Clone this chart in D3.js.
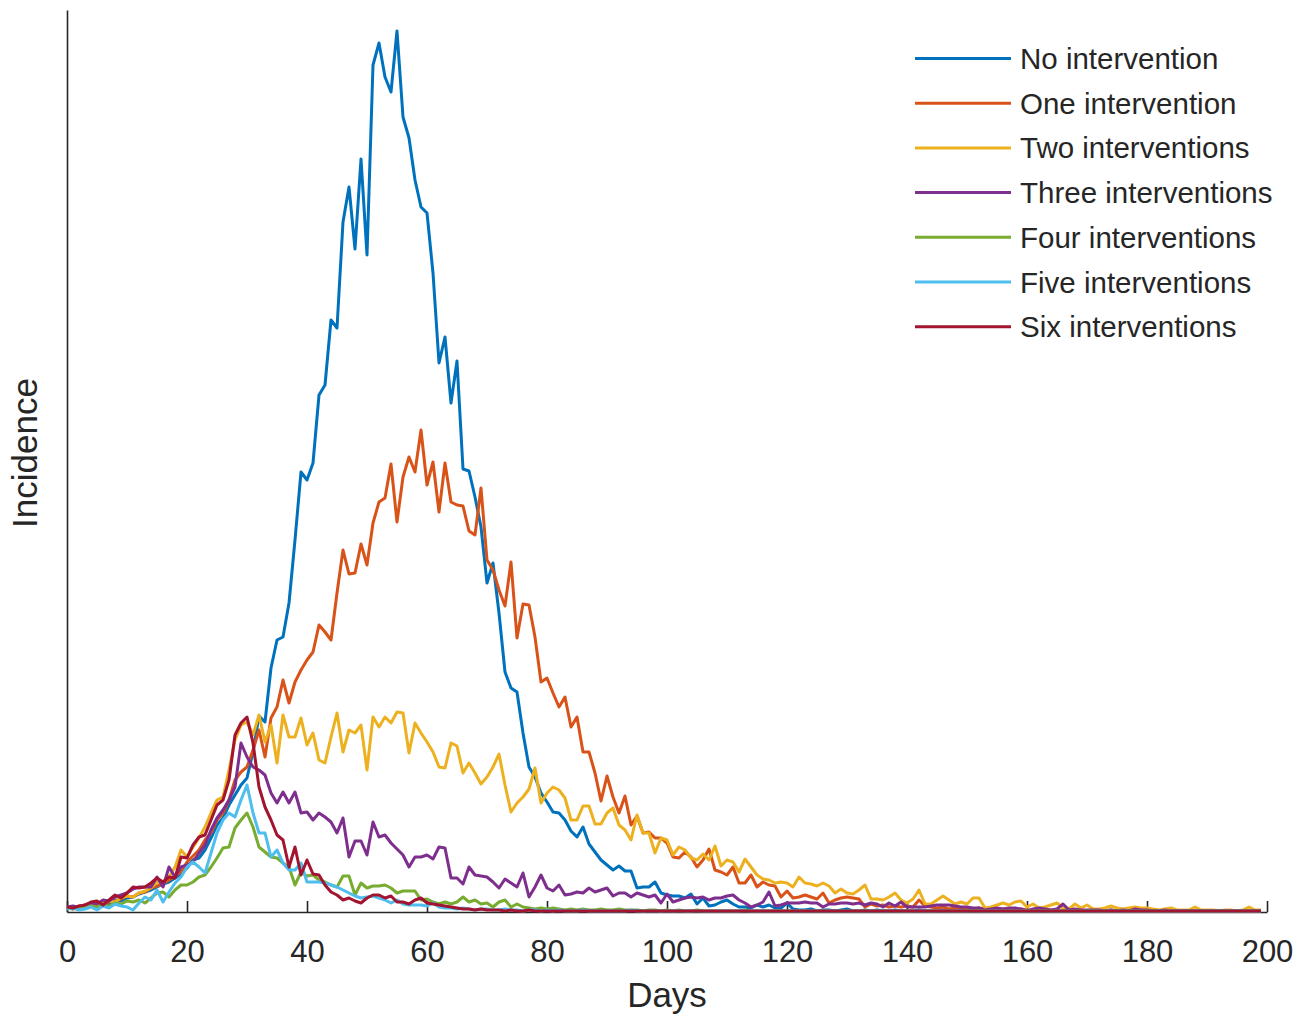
<!DOCTYPE html>
<html>
<head>
<meta charset="utf-8">
<script src="https://cdn.jsdelivr.net/npm/d3@7"></script>
<style>
  body { margin: 0; background: #fff; }
  svg text { font-family: "Liberation Sans", Arial, sans-serif; fill: #262626; }
</style>
</head>
<body>
<div id="chart"></div>
<script>
// incidence per day (day 0..199)
const noIntervention = [
  4,4,3,6,7,6,9,8,12,11,
  14,15,18,20,22,25,28,30,34,38,
  44,52,54,62,74,87,94,107,117,127,
  134,160,196,190,244,272,275,309,372,440,
  432,449,517,527,592,584,690,725,663,753,
  657,847,869,835,820,881,795,774,732,705,
  699,639,549,575,509,551,443,441,415,385,
  329,349,299,240,224,220,179,145,135,119,
  110,100,99,92,81,75,85,68,60,52,
  47,42,46,41,41,24,25,25,30,19,
  17,16,16,14,18,8,14,6,7,10,
  12,8,5,5,4,7,5,7,4,4,
  9,3,2,2,3,1,2,2,1,2,
  3,1,1,2,1,2,1,1,2,1,
  1,1,2,1,1,1,2,1,1,1,
  1,2,1,1,1,1,1,2,1,1,
  1,1,1,2,1,1,1,1,1,1,
  1,1,1,1,1,2,1,1,1,1,
  1,1,1,1,1,1,1,1,1,1,
  1,1,1,1,1,1,1,1,1,1
];
const oneIntervention = [
  5,3,6,6,8,7,9,10,11,13,
  16,15,19,20,24,26,28,32,36,40,
  50,56,62,72,79,92,99,112,132,140,
  145,162,182,155,194,205,232,209,230,242,
  252,260,287,280,272,319,362,338,339,368,
  347,389,410,414,448,390,435,455,440,482,
  427,450,400,449,410,407,406,381,377,424,
  352,342,322,306,350,274,308,307,275,230,
  234,219,205,215,185,195,160,160,139,111,
  136,115,99,116,87,96,79,80,74,74,
  69,55,54,60,55,45,52,63,42,40,
  37,45,29,29,37,25,30,27,26,15,
  21,14,15,17,15,13,19,9,12,14,
  15,14,13,5,8,6,7,5,6,5,
  6,5,12,6,5,4,5,3,4,3,
  4,3,4,3,3,2,3,2,2,3,
  2,2,3,2,2,1,2,2,1,2,
  1,2,1,1,2,1,1,1,1,1,
  1,1,1,1,1,1,1,1,1,1,
  1,1,1,1,1,1,1,1,1,1
];
const twoInterventions = [
  4,5,3,7,6,9,8,11,10,14,
  16,15,19,21,24,30,29,35,45,62,
  55,65,74,85,99,112,115,142,172,187,
  190,177,197,170,187,149,197,175,175,194,
  167,179,152,149,175,199,160,182,179,187,
  142,195,185,195,189,200,199,159,189,179,
  170,160,145,144,169,166,139,149,139,128,
  135,145,158,127,100,109,115,123,144,109,
  119,125,122,114,92,92,106,106,88,88,
  99,104,87,82,72,97,79,79,59,74,
  72,57,65,62,54,52,58,52,66,46,
  52,50,40,53,45,37,33,32,29,30,
  29,25,35,29,28,26,29,26,19,23,
  19,18,22,27,13,13,12,15,19,12,
  9,13,22,8,8,12,16,12,8,10,
  8,14,14,4,5,7,9,7,10,11,
  5,8,4,5,7,9,4,3,8,4,
  7,3,3,4,6,4,3,4,5,4,
  4,3,2,3,4,2,2,2,5,2,
  2,2,1,2,2,1,2,5,2,2
];
const threeInterventions = [
  5,6,4,7,9,8,12,11,15,17,
  19,23,25,25,25,35,25,45,35,45,
  47,50,59,67,82,94,102,112,125,169,
  155,145,142,137,119,109,120,109,120,99,
  100,92,99,95,90,79,94,55,71,71,
  57,90,75,77,69,63,57,45,55,55,
  57,53,65,64,34,34,28,45,37,36,
  35,30,24,33,29,25,39,15,25,37,
  24,21,27,17,18,20,19,24,20,22,
  24,16,19,19,15,19,17,15,17,9,
  18,10,12,14,15,14,15,12,14,14,
  16,17,12,9,5,7,10,20,6,7,
  9,9,9,10,9,9,5,8,8,9,
  9,8,9,7,9,8,5,9,6,10,
  5,5,5,5,6,7,7,7,6,5,
  5,4,4,2,3,4,3,4,4,3,
  1,3,4,3,2,3,8,2,3,2,
  2,2,2,1,2,1,2,1,3,2,
  2,1,1,2,1,1,1,1,1,1,
  1,1,1,1,1,1,1,1,1,1
];
const fourInterventions = [
  4,3,5,4,6,5,7,6,9,8,
  11,10,12,9,14,19,20,15,22,27,
  27,30,35,37,45,54,64,65,84,92,
  99,85,65,60,55,54,49,45,27,40,
  36,37,32,30,27,25,36,36,17,29,
  24,26,26,27,24,19,21,21,21,12,
  13,10,8,10,8,10,15,10,12,8,
  9,5,10,12,5,8,5,4,3,4,
  3,4,3,2,3,2,3,2,2,3,
  2,2,3,2,2,2,1,2,2,1,
  2,1,2,1,1,2,1,1,1,1,
  1,1,1,2,1,1,1,1,1,1,
  1,1,1,1,1,1,1,1,1,1,
  1,1,1,1,1,1,1,1,1,1,
  1,1,1,1,1,1,1,1,1,1,
  1,1,1,1,1,1,1,1,1,1,
  1,1,1,1,1,1,1,1,1,1,
  1,1,1,1,1,1,1,1,1,1,
  1,1,1,1,1,1,1,1,1,1,
  1,1,1,1,1,1,1,1,1,1
];
const fiveInterventions = [
  3,4,2,3,5,2,6,4,8,6,
  5,2,9,15,12,22,10,20,29,35,
  45,50,45,39,59,79,92,99,95,112,
  127,99,79,79,55,62,49,42,42,49,
  30,30,30,29,27,25,22,19,16,14,
  15,16,14,12,9,12,8,7,7,7,
  6,9,5,4,4,3,4,3,2,3,
  3,2,2,3,2,2,1,2,2,1,
  2,1,2,1,1,1,2,1,1,1,
  1,1,1,1,2,1,1,1,1,1,
  1,1,1,1,1,1,1,1,1,1,
  1,1,1,1,1,1,1,1,1,1,
  1,1,1,1,1,1,1,1,1,1,
  1,1,1,1,1,1,1,1,1,1,
  1,1,1,1,1,1,1,1,1,1,
  1,1,1,1,1,1,1,1,1,1,
  1,1,1,1,1,1,1,1,1,1,
  1,1,1,1,1,1,1,1,1,1,
  1,1,1,1,1,1,1,1,1,1,
  1,1,1,1,1,1,1,1,1,1
];
const sixInterventions = [
  5,4,6,7,10,11,7,12,17,14,
  19,25,24,25,29,34,30,35,34,55,
  54,67,75,77,92,107,112,132,177,189,
  195,169,125,105,92,77,72,45,65,37,
  52,38,37,27,20,17,12,14,11,9,
  14,17,17,14,16,10,10,8,12,14,
  9,8,7,6,5,4,3,3,2,3,
  2,2,2,1,2,1,1,2,1,1,
  1,1,1,1,1,1,1,1,1,1,
  1,1,1,1,1,1,1,1,1,1,
  1,1,1,1,1,1,1,1,1,1,
  1,1,1,1,1,1,1,1,1,1,
  1,1,1,1,1,1,1,1,1,1,
  1,1,1,1,1,1,1,1,1,1,
  1,1,1,1,1,1,1,1,1,1,
  1,1,1,1,1,1,1,1,1,1,
  1,1,1,1,1,1,1,1,1,1,
  1,1,1,1,1,1,1,1,1,1,
  1,1,1,1,1,1,1,1,1,1,
  1,1,1,1,1,1,1,1,1,1
];

const seriesNames = [
  "No intervention", "One intervention", "Two interventions",
  "Three interventions", "Four interventions", "Five interventions",
  "Six interventions"
];
const seriesValues = [
  noIntervention, oneIntervention, twoInterventions, threeInterventions,
  fourInterventions, fiveInterventions, sixInterventions
];
const xTicks = [0, 20, 40, 60, 80, 100, 120, 140, 160, 180, 200];

// matlab default line colours
const colors = ["#0072BD", "#D95319", "#EDB120", "#7E2F8E", "#77AC30", "#4DBEEE", "#A2142F"];

const W = 1304, H = 1016;
const x0 = 67, x1 = 1267, yBase = 912, yTop = 10;

const svg = d3.select("#chart").append("svg")
  .attr("width", W)
  .attr("height", H);

const x = d3.scaleLinear().domain([0, 200]).range([x0, x1]);
const y = d3.scaleLinear().domain([0, yBase - yTop]).range([yBase, yTop]);

// axes
const xAxis = svg.append("g")
  .attr("transform", `translate(0,${yBase})`)
  .call(d3.axisBottom(x).tickValues(xTicks).tickSizeInner(-11).tickSizeOuter(0).tickPadding(28));
xAxis.select(".domain").attr("stroke", "#262626").attr("stroke-width", 1.6);
xAxis.selectAll(".tick line").attr("stroke", "#262626").attr("stroke-width", 1.6);
xAxis.selectAll(".tick text")
  .attr("font-size", "31px")
  .attr("font-family", "Liberation Sans, Arial, sans-serif")
  .attr("fill", "#262626");

const yAxis = svg.append("g")
  .attr("transform", `translate(${x0},0)`)
  .call(d3.axisLeft(y).tickValues([]).tickSizeOuter(0));
yAxis.select(".domain").attr("stroke", "#262626").attr("stroke-width", 1.6);

// axis labels
svg.append("text")
  .attr("x", (x0 + x1) / 2)
  .attr("y", 1007)
  .attr("text-anchor", "middle")
  .attr("font-size", "35px")
  .text("Days");

svg.append("text")
  .attr("transform", "translate(37,453) rotate(-90)")
  .attr("text-anchor", "middle")
  .attr("font-size", "35px")
  .text("Incidence");

// lines
const line = d3.line()
  .x((d, i) => x(i))
  .y(d => y(d));

svg.append("g")
  .selectAll("path")
  .data(seriesValues)
  .join("path")
    .attr("d", line)
    .attr("fill", "none")
    .attr("stroke", (d, i) => colors[i])
    .attr("stroke-width", 3)
    .attr("stroke-linejoin", "round");

// legend
const legend = svg.append("g").attr("transform", "translate(915,58.5)");
const rows = legend.selectAll("g")
  .data(seriesNames)
  .join("g")
    .attr("transform", (d, i) => `translate(0,${i * 44.7})`);

rows.append("line")
  .attr("x1", 0).attr("x2", 96)
  .attr("y1", 0).attr("y2", 0)
  .attr("stroke", (d, i) => colors[i])
  .attr("stroke-width", 3);

rows.append("text")
  .attr("x", 105)
  .attr("y", 10.5)
  .attr("font-size", "29.5px")
  .text(d => d);
</script>
</body>
</html>
